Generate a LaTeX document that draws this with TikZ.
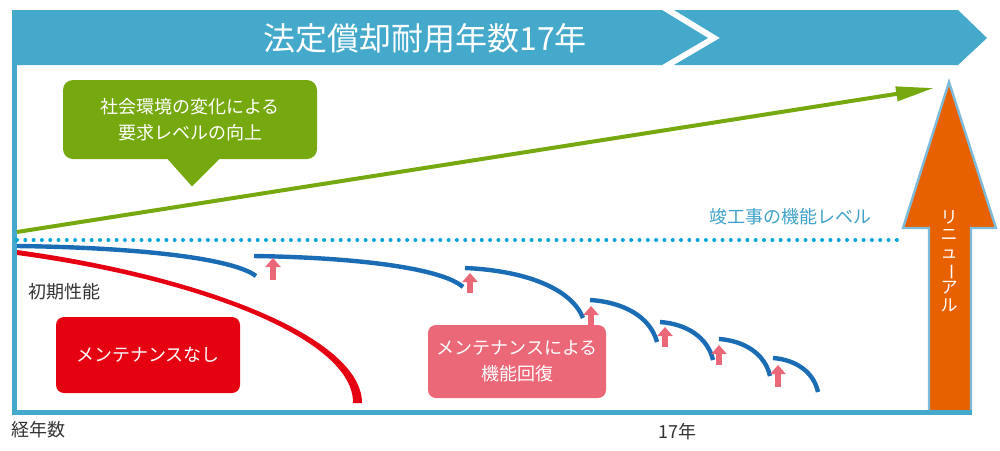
\documentclass[tikz,border=0pt]{standalone}
\usepackage{fontspec}
\setmainfont{Noto Sans CJK JP}
\usetikzlibrary{positioning,arrows.meta,calc}
\definecolor{bannerblue}{HTML}{44A9CA}
\definecolor{lineblue}{HTML}{1A6DB5}
\definecolor{dotblue}{HTML}{00A5D6}
\definecolor{lvltext}{HTML}{3FA2C8}
\definecolor{needgreen}{HTML}{76A80F}
\definecolor{nored}{HTML}{E50012}
\definecolor{fixpink}{HTML}{EA6878}
\definecolor{renewal}{HTML}{E86100}
\definecolor{renewedge}{HTML}{7DBBD9}
\definecolor{darktext}{HTML}{333333}

\begin{document}
\begin{tikzpicture}[
    x=0.5pt, y=-0.5pt,
    % --- Node styles ---
    axislabel/.style={font=\fontsize{9}{11}\selectfont, text=darktext, inner sep=0pt},
    tagbox/.style={
      rectangle, rounded corners=4pt, draw=none,
      font=\fontsize{9}{13}\selectfont, text=white, align=center, inner sep=2pt,
    },
    % --- Line styles ---
    frame/.style={draw=bannerblue, line width=2.5pt},
    curve/.style={draw=lineblue, line width=2.2pt},
    fixup/.style={-{Triangle[length=4.5pt, width=7.5pt]}, draw=fixpink, line width=3pt},
    level/.style={draw=dotblue, line width=2pt, line cap=round, dash pattern=on 0pt off 4.15pt},
  ]
    \useasboundingbox (0,0) rectangle (1000,450);

    % ===================== BANNER =====================
    \fill[bannerblue] (12,10) -- (662,10) -- (708,38) -- (662,65) -- (12,65) -- cycle;
    \fill[bannerblue] (674,10) -- (958,10) -- (987,38) -- (958,65) -- (674,65) -- (720,38) -- cycle;
    \node[font=\fontsize{16}{20}\selectfont, text=white] (title) at (425,38) {法定償却耐用年数17年};

    % ===================== RENEWAL ARROW =====================
    \filldraw[fill=renewal, draw=renewedge, line width=1.2pt]
      (929,413) -- (929,228) -- (903,228) -- (949,82) -- (996,228)
      -- (971,228) -- (971,413) -- cycle;
    \node[font=\fontsize{8.5}{8.8}\selectfont, text=white, align=center, inner sep=0pt] (renew) at (949,261)
      {リ\\ニ\\ュ\\\rotatebox[origin=c]{-90}{ー}\\ア\\ル};

    % ===================== FRAME =====================
    \draw[frame] (14,64) -- (14,412.5) -- (972,412.5);

    % ===================== REQUIRED LEVEL =====================
    \draw[needgreen, line width=2pt, -{Triangle[length=19pt, width=7pt]}] (17,232) -- (934,88);
    \node[tagbox, fill=needgreen, rounded corners=5pt, minimum width=127pt, minimum height=39.5pt] (need) at (190,119.5)
      {社会環境の変化による\\要求レベルの向上};
    \fill[needgreen] ($(need.south)+(-23,-1)$) -- ($(need.south)+(30,-1)$) -- ($(need.south)+(2,27)$) -- cycle;

    % ===================== COMPLETION LEVEL =====================
    \draw[level] (17,240) -- (905,240);
    \node[font=\fontsize{9}{11}\selectfont, text=lvltext, inner sep=0pt] (lvl) at (790,217) {竣工事の機能レベル};

    % ===================== NO MAINTENANCE =====================
    \fill[nored] (17,250) .. controls (205,276) and (362,338) .. (362,403)
      -- (353,403) .. controls (354,340) and (203,280) .. (17,255) -- cycle;
    \node[tagbox, fill=nored, minimum width=92pt, minimum height=38pt] (nomaint) at (148,355) {メンテナンスなし};

    % ===================== WITH MAINTENANCE =====================
    \foreach \sx/\sy/\ex/\ey in {17/246/256/276, 254/256/463/287, 465/268/583/318,
                                 590/300/657/342, 660/322/713/360, 719/339/770/376,
                                 773/358/818/392}{
      \pgfmathsetmacro\pax{\sx+0.5*(\ex-\sx)}
      \pgfmathsetmacro\pay{\sy+0.05*(\ey-\sy)}
      \pgfmathsetmacro\pbx{\ex-0.1*(\ex-\sx)}
      \pgfmathsetmacro\pby{\ey-0.6*(\ey-\sy)}
      \draw[curve] (\sx,\sy) .. controls (\pax,\pay) and (\pbx,\pby) .. (\ex,\ey);
    }

    \foreach \ax/\ab/\at in {273/280/258, 470/293/273, 591/325/306, 665/347/327,
                             719/365/345, 778/387/365}
      \draw[fixup] (\ax,\ab) -- (\ax,\at);

    \node[tagbox, fill=fixpink, minimum width=89pt, minimum height=36.5pt] (maint) at (517,361.5)
      {メンテナンスによる\\機能回復};

    % ===================== LABELS =====================
    \node[axislabel] (init)  at (64,292)  {初期性能};
    \node[axislabel] (years) at (38,430)  {経年数};
    \node[axislabel] (y17)   at (677,432) {17年};

  \end{tikzpicture}
\end{document}
